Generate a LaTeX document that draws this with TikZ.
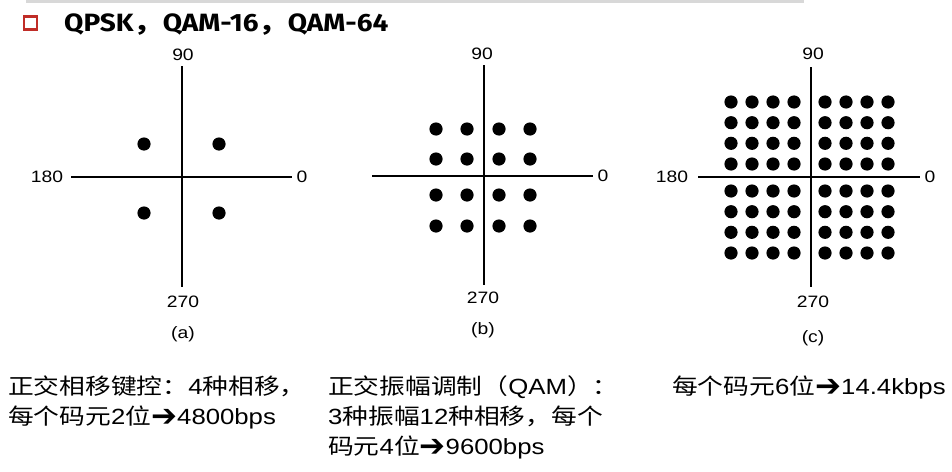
\documentclass[tikz,border=0pt]{standalone}
\usepackage{fontspec}
\setmainfont[FakeStretch=1.17]{Liberation Sans}
\newfontfamily\cjk[FakeStretch=1.17]{Noto Sans CJK SC}
\newfontfamily\arrowfont{DejaVu Sans}
\newfontfamily\titlefont[FakeStretch=1.12]{Fira Sans}
\newcommand{\rarr}{\raisebox{-2.5pt}{\arrowfont\fontsize{31}{32}\selectfont ➔}}
\definecolor{bulletred}{RGB}{192,45,40}
\definecolor{topgray}{RGB}{216,216,216}
\tikzset{
  axis/.style={line width=1.8pt, black},
  dot/.style={fill=black},
  lbl/.style={inner sep=0pt, font=\fontsize{16.5}{18}\selectfont},
  caption/.style={inner sep=0pt, anchor=base west, font=\fontsize{22}{26}\selectfont},
}
\begin{document}
\begin{tikzpicture}[x=1pt,y=-1pt]
\useasboundingbox (0,0) rectangle (952,471);
\fill[white] (0,0) rectangle (952,471);
% top gray rule
\fill[topgray] (25.5,0) rectangle (804,3);
% bullet and title
\node[draw=bulletred, line width=2.2pt, fill=white, minimum width=13pt, minimum height=13pt, inner sep=0pt] (bullet) at (30.5,23) {};
\node[inner sep=0pt, anchor=base west, font=\titlefont\bfseries\fontsize{25}{28}\selectfont] (title) at (64,31) {QPSK{\cjk\bfseries ，}QAM-16{\cjk\bfseries ，}QAM-64};

% ---------- (a) QPSK ----------
\coordinate (aT) at (181.7,66);
\coordinate (aB) at (181.7,287);
\coordinate (aL) at (71,177);
\coordinate (aR) at (292,177);
\draw[axis] (aT) -- (aB);
\draw[axis] (aL) -- (aR);
\foreach \x in {144,219} \foreach \y in {144,213} \fill[dot] (\x,\y) circle (6.6);
\node[lbl] (a90) at (183,55) {90};
\node[lbl] (a180) at (47,177) {180};
\node[lbl] (a0) at (302,177) {0};
\node[lbl] (a270) at (183,302) {270};
\node[lbl] (acap) at (183,334) {(a)};

% ---------- (b) QAM-16 ----------
\coordinate (bT) at (484,65);
\coordinate (bB) at (484,285);
\coordinate (bL) at (372,176);
\coordinate (bR) at (593,176);
\draw[axis] (bT) -- (bB);
\draw[axis] (bL) -- (bR);
\foreach \x in {436,467,499,530} \foreach \y in {129,159,195,226} \fill[dot] (\x,\y) circle (6.6);
\node[lbl] (b90) at (482,54) {90};
\node[lbl] (b0) at (603,176) {0};
\node[lbl] (b270) at (483,298) {270};
\node[lbl] (bcap) at (483,330) {(b)};

% ---------- (c) QAM-64 ----------
\coordinate (cT) at (811,67);
\coordinate (cB) at (811,287);
\coordinate (cL) at (698,177);
\coordinate (cR) at (920,177);
\draw[axis] (cT) -- (cB);
\draw[axis] (cL) -- (cR);
\foreach \x in {731,752,773,794,825,846,867,888}
  \foreach \y in {102,122.7,143.3,164,191,211.7,232.3,253} \fill[dot] (\x,\y) circle (6.6);
\node[lbl] (c90) at (813,54) {90};
\node[lbl] (c180) at (672,177) {180};
\node[lbl] (c0) at (930,177) {0};
\node[lbl] (c270) at (813,302) {270};
\node[lbl] (ccap) at (813,338) {(c)};

% ---------- captions ----------
\node[caption] (t1a) at (8,394) {{\cjk 正交相移键控：}4{\cjk 种相移，}};
\node[caption] (t1b) at (8,424) {{\cjk 每个码元}2{\cjk 位}\rarr 4800bps};
\node[caption] (t2a) at (328,394) {{\cjk 正交振幅调制（}QAM{\cjk ）：}};
\node[caption] (t2b) at (328,424) {3{\cjk 种振幅}12{\cjk 种相移，每个}};
\node[caption] (t2c) at (328,454) {{\cjk 码元}4{\cjk 位}\rarr 9600bps};
\node[caption] (t3a) at (672,394) {{\cjk 每个码元}6{\cjk 位}\rarr 14.4kbps};
\end{tikzpicture}
\end{document}
